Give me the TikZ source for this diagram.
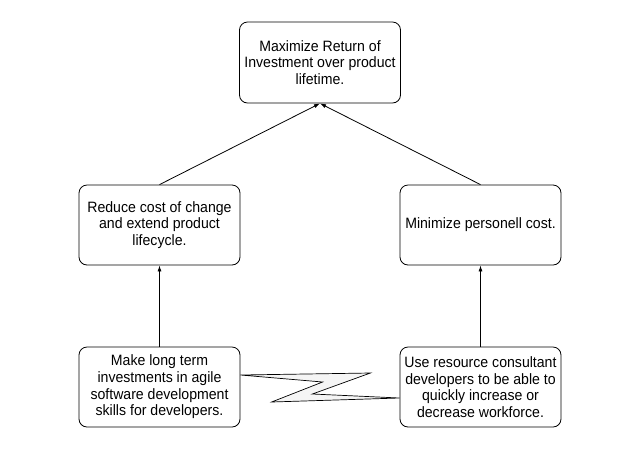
\documentclass[tikz,border=0pt]{standalone}
\usepackage{fontspec}
\setmainfont{Liberation Sans}[FakeStretch=0.94]
\usepackage{tikz}
\usetikzlibrary{
  arrows.meta,
  positioning,
  calc
}
\definecolor{linecolor}{RGB}{0, 0, 0}
\definecolor{boltfill}{RGB}{245, 245, 245}
\tikzset{
goalbox/.style={
  draw=linecolor,
  rounded corners=8pt,
  fill=white,
  minimum width=161pt,
  minimum height=80pt,
  align=center,
  inner sep=2pt,
  font=\fontsize{15}{16.7}\selectfont,
  line width=0.8pt
},
myarrow/.style={
  -{Latex[length=6pt,width=4pt]},
  line width=0.8pt,
  draw=linecolor
},
bolt/.style={
  draw=linecolor,
  fill=boltfill,
  line width=0.7pt,
  line join=miter
}
}

\begin{document}
\begin{tikzpicture}[x=1pt, y=-1pt]
\useasboundingbox (0,0) rectangle (640,451);

% ============================================================================
% Objetivo principal
% ============================================================================
\node[goalbox, minimum height=81pt] (roi) at (320, 62.5) {Maximize Return of\\Investment over product\\lifetime.};

% ============================================================================
% Sub-objetivos
% ============================================================================
\node[goalbox] (costchange) at (159.5, 225) {Reduce cost of change\\and extend product\\lifecycle.};
\node[goalbox] (personell) at (480.5, 225) {Minimize personell cost.};

% ============================================================================
% Estrategias
% ============================================================================
\node[goalbox] (agile) at (159.5, 387) {Make long term\\investments in agile\\software development\\skills for developers.};
\node[goalbox] (consult) at (480.5, 387) {Use resource consultant\\developers to be able to\\quickly increase or\\decrease workforce.};

% ============================================================================
% Setas
% ============================================================================
\draw[myarrow] (costchange.north) -- (roi.south);
\draw[myarrow] (personell.north) -- (roi.south);
\draw[myarrow] (agile.north) -- (costchange.south);
\draw[myarrow] (consult.north) -- (personell.south);

% ============================================================================
% Conflito entre estrategias
% ============================================================================
\coordinate (boltstart) at ([yshift=12pt]agile.east);
\coordinate (boltend) at ([yshift=-11pt]consult.west);
\filldraw[bolt] (boltstart) -- +(130,-2) -- +(72,19) -- (boltend) -- +(-128,4) -- +(-77,-16) -- cycle;

\end{tikzpicture}
\end{document}
